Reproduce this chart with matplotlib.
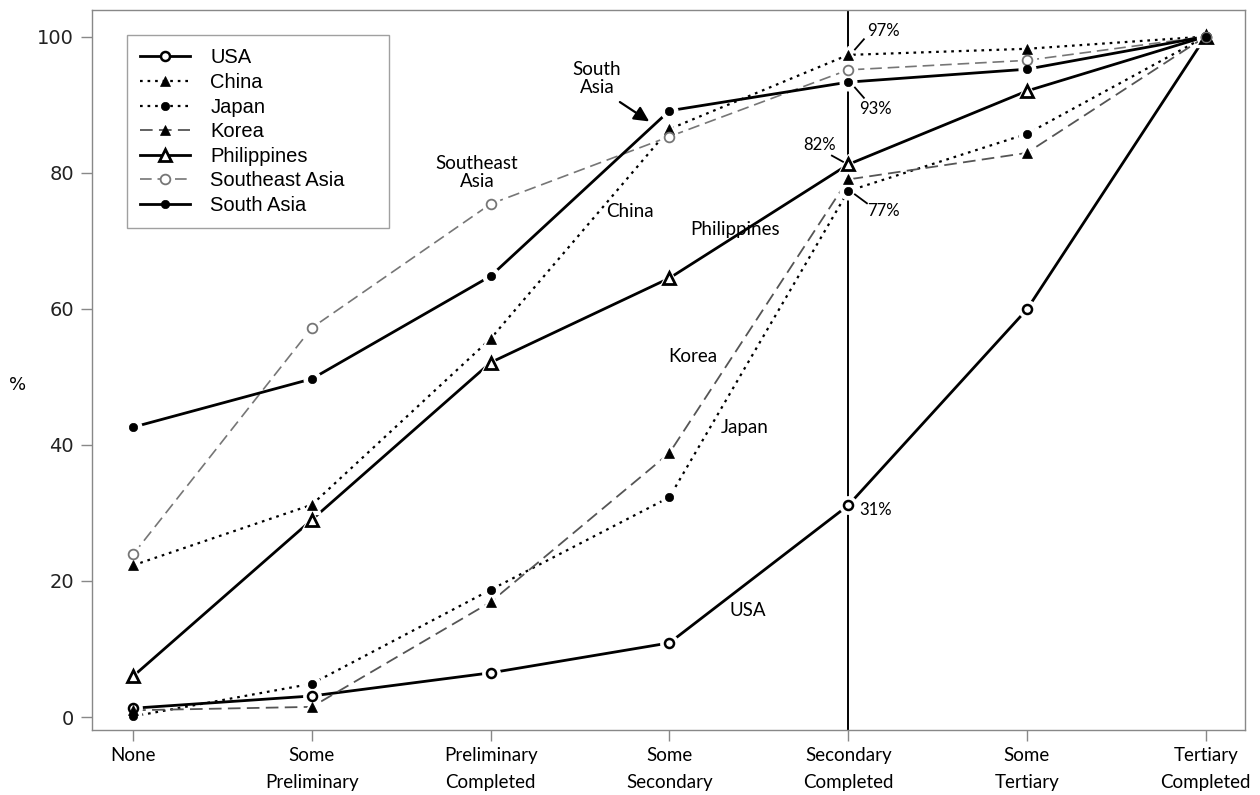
import matplotlib
matplotlib.use("Agg")
import matplotlib.pyplot as plt
from matplotlib.lines import Line2D

categories = ["None", "Some\nPreliminary", "Preliminary\nCompleted", "Some\nSecondary",
              "Secondary\nCompleted", "Some\nTertiary", "Tertiary\nCompleted"]
usa = [1.3, 3.1, 6.5, 10.9, 31.1, 59.9, 100]
china = [22.3, 31.2, 55.6, 86.4, 97.3, 98.2, 100]
japan = [0.1, 4.9, 18.7, 32.3, 77.3, 85.7, 100]
korea = [1.0, 1.5, 16.9, 38.8, 79.0, 82.9, 100]
philippines = [6.0, 29.0, 52.1, 64.5, 81.2, 92.0, 100]
southeast_asia = [23.9, 57.2, 75.4, 85.3, 95.1, 96.5, 100]
south_asia = [42.6, 49.7, 64.8, 89.1, 93.3, 95.2, 100]
y_ticks = [0, 20, 40, 60, 80, 100]

series = [
    ("USA", usa, dict(color="black", ls="-", lw=2.0, marker="o", ms=6.5, mfc="white", mec="black", mew=1.8)),
    ("China", china, dict(color="black", ls=(0, (1.2, 2.2)), lw=1.6, marker="^", ms=7, mfc="black", mec="black", mew=0.5)),
    ("Japan", japan, dict(color="black", ls=(0, (1.2, 2.2)), lw=1.6, marker="o", ms=6, mfc="black", mec="black", mew=0.5)),
    ("Korea", korea, dict(color="#555555", ls=(0, (7, 3.5)), lw=1.3, marker="^", ms=7, mfc="black", mec="black", mew=0.5)),
    ("Philippines", philippines, dict(color="black", ls="-", lw=2.0, marker="^", ms=9, mfc="white", mec="black", mew=2.0)),
    ("Southeast Asia", southeast_asia, dict(color="#767676", ls=(0, (7, 3.5)), lw=1.2, marker="o", ms=7, mfc="white", mec="#767676", mew=1.3)),
    ("South Asia", south_asia, dict(color="black", ls="-", lw=2.0, marker="o", ms=6, mfc="black", mec="black", mew=0.5)),
]

fig = plt.figure(figsize=(12.6, 7.95), dpi=100)
ax = fig.add_axes([92/1260, 1 - 730/795, (1245-92)/1260, (730-10)/795])

x = list(range(len(categories)))
handles = []
for i, (name, vals, st) in enumerate(series):
    ax.plot(x, vals, color=st["color"], ls=st["ls"], lw=st["lw"], zorder=2)
    ax.plot(x, vals, ls="none", marker=st["marker"], ms=st["ms"] + 6, mfc="white", mec="white", zorder=3)
    ax.plot(x, vals, ls="none", marker=st["marker"], ms=st["ms"], mfc=st["mfc"], mec=st["mec"], mew=st["mew"], zorder=4)
    handles.append(Line2D([], [], color=st["color"], ls=st["ls"], lw=st["lw"], marker=st["marker"],
                          ms=st["ms"], mfc=st["mfc"], mec=st["mec"], mew=st["mew"]))

ax.axvline(4, color="black", lw=1.4, zorder=1)

ax.set_xlim(-0.23, 6.22)
ax.set_ylim(-1.9, 103.9)
ax.set_xticks(x)
ax.set_xticklabels(categories, family="Lato", fontsize=13.5, linespacing=1.75)
ax.set_yticks(y_ticks)
ax.set_yticklabels([str(v) for v in y_ticks], family="DejaVu Sans", fontsize=14, color="#222222")
ax.tick_params(axis="both", direction="out", length=8, width=1, color="#888888")
ax.tick_params(axis="x", pad=4)
ax.tick_params(axis="y", pad=5)
for sp in ax.spines.values():
    sp.set_color("#888888")
    sp.set_linewidth(1.0)
fig.text(18/1260, 1 - 385/795, "%", family="DejaVu Sans", fontsize=13, ha="center", va="center")

leg = ax.legend(handles, [s[0] for s in series], loc="upper left",
                bbox_to_anchor=(0.030, 0.0, 0.228, 0.965), mode="expand",
                borderaxespad=0, frameon=True, fancybox=False, handlelength=2.5, handletextpad=1.0,
                labelspacing=0.28, borderpad=0.65, prop={"family": "Liberation Sans", "size": 14.5})
leg.get_frame().set_edgecolor("#888888")
leg.get_frame().set_linewidth(1.0)

afont = dict(family="Lato", fontsize=13.5, color="black", ha="center", va="center", zorder=6)
ax.text(2.595, 93.8, "South\nAsia", linespacing=1.1, **afont)
ax.annotate("", xy=(2.90, 87.3), xytext=(2.71, 90.6),
            arrowprops=dict(arrowstyle="-|>,head_length=0.9,head_width=0.45", color="black", lw=1.6), zorder=6)
ax.text(1.924, 80.0, "Southeast\nAsia", linespacing=1.1, **afont)
ax.text(2.78, 74.3, "China", **afont)
ax.text(3.37, 71.7, "Philippines", **afont)
ax.text(3.13, 53.0, "Korea", **afont)
ax.text(3.42, 42.6, "Japan", **afont)
ax.text(3.44, 15.7, "USA", **afont)

pfont = dict(family="Lato", fontsize=12, color="black", ha="center", va="center", zorder=6)
ax.text(4.195, 100.8, "97%", **pfont)
ax.plot([4.038, 4.088], [98.1, 99.6], color="black", lw=1.3, zorder=6)
ax.text(4.15, 89.4, "93%", **pfont)
ax.plot([4.038, 4.088], [92.5, 91.0], color="black", lw=1.3, zorder=6)
ax.text(3.84, 84.1, "82%", **pfont)
ax.plot([3.909, 3.971], [82.5, 81.6], color="black", lw=1.3, zorder=6)
ax.text(4.195, 74.3, "77%", **pfont)
ax.plot([4.038, 4.105], [76.8, 75.5], color="black", lw=1.3, zorder=6)
ax.text(4.155, 30.4, "31%", **pfont)

fig.savefig("out.png", dpi=100)
